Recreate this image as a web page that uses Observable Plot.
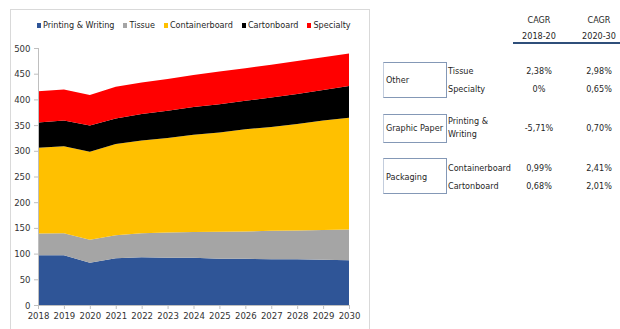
<!DOCTYPE html>
<html><head><meta charset="utf-8">
<script src="https://cdn.jsdelivr.net/npm/d3@7"></script>
<script src="https://cdn.jsdelivr.net/npm/@observablehq/plot@0.6"></script>
<style>
body{margin:0;width:620px;height:329px;overflow:hidden;background:#fff;font-family:"DejaVu Sans Condensed","DejaVu Sans",sans-serif;font-size:9px;color:#1f1f1f;position:relative}
.abs{position:absolute;white-space:nowrap;line-height:13px}
.box{position:absolute;border:1px solid #8498b6;border-left-color:#c3cddd;box-sizing:border-box}
#legend{position:absolute;left:37px;top:18px;display:flex;gap:9px;line-height:14px;white-space:nowrap}
#legend .it{display:flex;align-items:center}
#legend .sw{width:4px;height:5px;margin-right:2px}
</style></head><body>
<div style="position:absolute;left:10px;top:9px;width:358px;height:340px;border:1px solid #d9d9d9"></div>
<div id="legend"></div>
<div id="chart" style="position:absolute;left:0;top:40px"></div>
<div id="table"></div>
<script>
// ---- chart data ----
const years = [2018, 2019, 2020, 2021, 2022, 2023, 2024, 2025, 2026, 2027, 2028, 2029, 2030];
const seriesNames = ["Printing & Writing", "Tissue", "Containerboard", "Cartonboard", "Specialty"];
const printingWriting = [97, 97, 82, 91, 93, 92, 92, 90, 90, 89, 89, 88, 87];
const tissue = [42, 42.5, 45, 44.5, 46.5, 49, 50, 52.5, 53, 55.5, 56, 58, 60];
const containerboard = [167, 169.5, 171, 177.5, 180.5, 184, 189, 193, 199, 202, 207, 213, 217.5];
const cartonboard = [49, 50, 51, 50, 51.5, 53, 54, 55, 55.5, 57, 58.5, 59.5, 61.5];
const specialty = [61, 60.5, 59.5, 61.5, 61.5, 61.5, 62.5, 64, 63, 64, 64, 63.5, 63.5];
const seriesColors = ["#2F5597", "#A5A5A5", "#FFC000", "#000000", "#FF0000"];
const yTicks = [0, 50, 100, 150, 200, 250, 300, 350, 400, 450, 500];

// ---- table data ----
const cagrHeaders = [["CAGR", "2018-20"], ["CAGR", "2020-30"]];
const groups = ["Other", "Graphic Paper", "Packaging"];
const products = ["Tissue", "Specialty", "Printing &\nWriting", "Containerboard", "Cartonboard"];
const cagr2018_20 = ["2,38%", "0%", "-5,71%", "0,99%", "0,68%"];
const cagr2020_30 = ["2,98%", "0,65%", "0,70%", "2,41%", "2,01%"];

const seriesValues = [printingWriting, tissue, containerboard, cartonboard, specialty];
const rows = [];
seriesNames.forEach((name, i) => years.forEach((yr, j) => rows.push({series: name, year: yr, value: seriesValues[i][j]})));

// legend
const leg = document.getElementById("legend");
seriesNames.forEach((n, i) => {
  const it = document.createElement("div"); it.className = "it";
  it.innerHTML = `<span class="sw" style="background:${seriesColors[i]}"></span><span>${n}</span>`;
  leg.appendChild(it);
});

const chart = Plot.plot({
  width: 372, height: 285,
  marginLeft: 38, marginRight: 23, marginTop: 8, marginBottom: 20,
  style: {fontFamily: '"DejaVu Sans Condensed","DejaVu Sans",sans-serif', fontSize: "9.5px", color: "#333", background: "transparent", overflow: "visible"},
  x: {domain: [2018, 2030], type: "linear"},
  y: {domain: [0, 500]},
  color: {domain: seriesNames, range: seriesColors},
  marks: [
    Plot.areaY(rows, {x: "year", y: "value", fill: "series", order: seriesNames, z: "series"}),
    Plot.ruleX([2018], {stroke: "#bfbfbf"}),
    Plot.ruleY([0], {stroke: "#bfbfbf"}),
    Plot.axisY({ticks: yTicks, tickSize: 4, tickPadding: 4, stroke: "#bfbfbf", fill: "#333", label: null}),
    Plot.axisX({ticks: years, tickFormat: d => String(d), tickSize: 4, tickPadding: 3, stroke: "#bfbfbf", fill: "#333", label: null})
  ]
});
document.getElementById("chart").appendChild(chart);

// table
const tb = document.getElementById("table");
function txt(s, x, y, align) {
  const d = document.createElement("div"); d.className = "abs";
  d.textContent = s;
  d.style.top = (y - 6.5) + "px";
  if (align === "center") { d.style.left = (x - 40) + "px"; d.style.width = "80px"; d.style.textAlign = "center"; }
  else d.style.left = x + "px";
  tb.appendChild(d);
}
const colX = [539, 599];
cagrHeaders.forEach((h, i) => { txt(h[0], colX[i], 20, "center"); txt(h[1], colX[i], 36, "center"); });
const ul = document.createElement("div");
ul.style.cssText = "position:absolute;left:513px;top:42px;width:107px;height:2px;background:#2f4f7a";
tb.appendChild(ul);
const boxes = [[62, 98], [114, 143], [158, 194]];
const groupY = [80, 128, 177];
groups.forEach((g, i) => {
  const b = document.createElement("div"); b.className = "box";
  b.style.left = "383px"; b.style.width = "64px";
  b.style.top = boxes[i][0] + "px"; b.style.height = (boxes[i][1] - boxes[i][0]) + "px";
  tb.appendChild(b);
  txt(g, 386, groupY[i]);
});
const prodY = [71, 89, null, 168, 186];
products.forEach((p, i) => {
  if (p.includes("\n")) {
    const parts = p.split("\n");
    txt(parts[0], 448, 121); txt(parts[1], 448, 134);
    txt(cagr2018_20[i], colX[0], 128, "center"); txt(cagr2020_30[i], colX[1], 128, "center");
  } else {
    txt(p, 448, prodY[i]);
    txt(cagr2018_20[i], colX[0], prodY[i], "center"); txt(cagr2020_30[i], colX[1], prodY[i], "center");
  }
});
</script>
</body></html>
